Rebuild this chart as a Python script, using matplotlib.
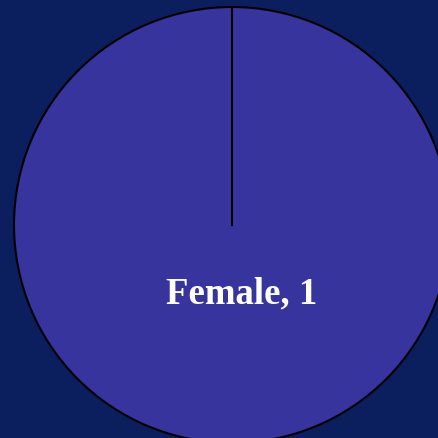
import matplotlib
matplotlib.use("Agg")
import matplotlib.pyplot as plt

labels = ["Female"]
values = [1]

bg = "#0B1F5F"
fig = plt.figure(figsize=(4.38, 4.38), dpi=100, facecolor=bg)
ax = fig.add_axes([0, 0, 1, 1])
ax.set_facecolor(bg)

ax.pie(values, center=(232, 213), radius=218, startangle=90, counterclock=False,
       colors=["#38349D"], wedgeprops=dict(edgecolor="black", linewidth=1.5),
       frame=True)
ax.set_xlim(0, 438)
ax.set_ylim(0, 438)
ax.set_aspect("equal")
ax.axis("off")
ax.plot([232, 232], [213, 431], color="black", lw=1.5)

ax.text(242, 438 - 294, f"{labels[0]}, {values[0]}", color="white", fontsize=26.5,
        fontweight="bold", family="Liberation Serif", ha="center", va="center")

fig.savefig("out.png", dpi=100, facecolor=bg)
